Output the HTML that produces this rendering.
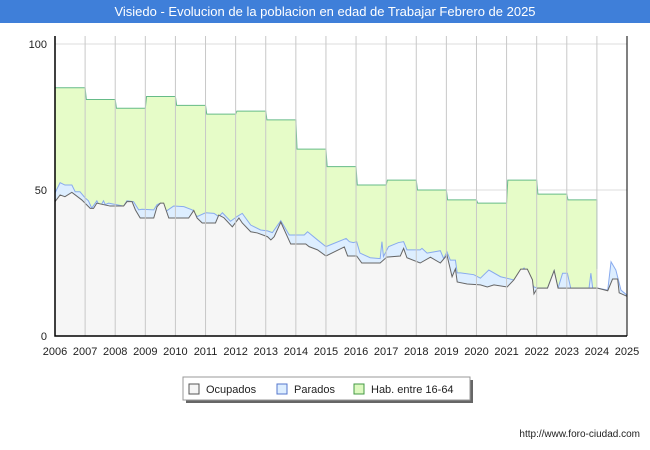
<!DOCTYPE html>
<html><head><meta charset="utf-8"><style>
body{margin:0;background:#fff;font-family:"Liberation Sans",sans-serif;}
#wrap{position:relative;width:650px;height:450px;overflow:hidden;}
</style></head><body>
<div id="wrap">
<svg id="svg" width="650" height="450" xmlns="http://www.w3.org/2000/svg">
<rect x="0" y="0" width="650" height="23" fill="#3f7fd9"/>
<text x="325" y="16" text-anchor="middle" font-size="13" fill="#fff" font-family="Liberation Sans, sans-serif">Visiedo - Evolucion de la poblacion en edad de Trabajar Febrero de 2025</text>
<g id="plot"></g>
<g>
<rect x="186" y="380" width="287" height="23" fill="#666"/>
<rect x="183" y="377" width="287" height="23" fill="#fff" stroke="#999"/>
<rect x="189" y="384" width="10" height="10" fill="#f5f5f5" stroke="#555"/>
<text x="206" y="393" font-size="11" fill="#222">Ocupados</text>
<rect x="277" y="384" width="10" height="10" fill="#ddeeff" stroke="#5577cc"/>
<text x="294" y="393" font-size="11" fill="#222">Parados</text>
<rect x="354" y="384" width="10" height="10" fill="#ddf9c0" stroke="#449944"/>
<text x="371" y="393" font-size="11" fill="#222">Hab. entre 16-64</text>
</g>
<text x="640" y="437" text-anchor="end" font-size="10" fill="#222">http://www.foro-ciudad.com</text>
</svg>
</div>
<script>
const xTicks=[2006,2007,2008,2009,2010,2011,2012,2013,2014,2015,2016,2017,2018,2019,2020,2021,2022,2023,2024,2025];
const yTicks=[0,50,100];
const habYears=[2006,2007,2008,2009,2010,2011,2012,2013,2014,2015,2016,2017,2018,2019,2020,2021,2022,2023];
const habVals=[85,81,78,82,79,76,77,74,64,58,51.7,53.4,50,46.6,45.5,53.4,48.6,46.6];
const habEndVal=23;
const ocuYears=[2006,2006.17,2006.33,2006.56,2006.89,2007.17,2007.28,2007.39,2007.83,2008.28,2008.39,2008.56,2008.67,2008.83,2009.28,2009.39,2009.5,2009.61,2009.78,2010.44,2010.61,2010.72,2010.89,2011.33,2011.44,2011.61,2011.89,2012.11,2012.22,2012.5,2012.72,2013.06,2013.17,2013.28,2013.5,2013.83,2014.33,2014.44,2014.72,2015,2015.61,2015.72,2016.02,2016.19,2016.8,2017.02,2017.47,2017.58,2017.69,2018.13,2018.47,2018.8,2019.02,2019.19,2019.3,2019.36,2019.69,2020.13,2020.36,2020.58,2021.02,2021.24,2021.47,2021.69,2021.86,2021.91,2022.02,2022.36,2022.58,2022.71,2024.02,2024.36,2024.52,2024.69,2024.74,2025];
const ocuVals=[46,48.3,47.7,49.2,46.6,43.7,43.7,45.5,44.5,44.5,46,46,43.2,40.4,40.4,44.3,45.5,45.5,40.4,40.4,43,40.4,38.7,38.7,41.4,40.5,37.4,40.4,38.7,35.7,35.3,34,32.9,34,39,31.5,31.5,30.6,29.5,27.4,30.5,27.4,27.4,25,25,27,27.4,30,26.8,25,27,25,27.7,20.3,23,18.5,17.8,17.5,16.8,17.5,16.8,19.2,22.9,22.9,19.2,14.4,16.4,16.4,22.4,16.4,16.4,15.5,19.5,19.5,14.8,13.6];
const parYears=[2006,2006.17,2006.33,2006.56,2006.67,2006.83,2007,2007.11,2007.22,2007.39,2007.5,2007.61,2007.67,2007.78,2008.28,2008.39,2008.61,2008.78,2008.89,2009.28,2009.39,2009.5,2009.67,2009.94,2010.28,2010.56,2010.72,2011,2011.28,2011.44,2011.56,2011.83,2012.06,2012.22,2012.5,2012.83,2013.06,2013.22,2013.5,2013.78,2014.28,2014.39,2014.72,2015,2015.67,2015.78,2015.91,2016.02,2016.13,2016.47,2016.8,2016.86,2016.91,2017.08,2017.41,2017.58,2017.69,2018.13,2018.19,2018.36,2018.8,2018.91,2019.02,2019.13,2019.3,2019.36,2019.47,2019.91,2020.13,2020.41,2020.8,2021.24,2021.58,2021.91,2022.02,2022.36,2022.58,2022.71,2022.86,2023.02,2023.13,2023.74,2023.8,2023.86,2024.02,2024.36,2024.47,2024.63,2024.8,2025];
const parVals=[49,52.5,51.7,51.7,49.4,49.4,47.3,46.3,43.8,46.3,44.2,46.3,45,45.5,44.5,46.3,46,43.2,43.4,43.2,45,45.5,42.6,44.5,44.3,43.2,40.9,42.2,42,40.9,42.2,39.3,41,42,38,36.3,36,35.4,39.5,34.6,34.6,35.7,32.9,30.6,33.4,32.3,32,32.3,28.4,26.8,26.5,32.3,27.2,30.6,32,32.3,29.5,29.5,30,28.4,29.2,26.5,28.8,26,26,21.6,21.6,21,19.8,22.6,20.3,19.2,23.3,16.8,16.4,16.4,22.4,16.4,21.5,21.5,16.4,16.4,21.5,16.4,16.4,15.7,25.4,22.6,15.7,14];

const X0=55,X1=627,Y0=336,Y100=44;
const sx=v=>X0+(v-2006)/(2025-2006)*(X1-X0);
const sy=v=>Y0-(v/100)*(Y0-Y100);
const NS="http://www.w3.org/2000/svg";
const plot=document.getElementById('plot');
function mk(tag,attrs){const e=document.createElementNS(NS,tag);for(const k in attrs)e.setAttribute(k,attrs[k]);plot.appendChild(e);return e;}

// horizontal grid
yTicks.forEach(t=>{
  if(t>0){const g=mk('line',{x1:X0,x2:X1,y1:sy(t),y2:sy(t),stroke:'#dddddd'});
  
  }
  const tx=mk('text',{x:X0-8,y:sy(t)+4,'text-anchor':'end','font-size':'11',fill:'#222'});
  tx.textContent=t;
  
  
});

// green area
let hp=[];
habYears.forEach((y,i)=>{hp.push([sx(y+(i?0.04:0)),sy(habVals[i])]);hp.push([sx(y+1),sy(habVals[i])]);});
hp.push([sx(habYears[habYears.length-1]+1),sy(habEndVal)]);
const hd='M'+hp.map(p=>p.join(',')).join('L');
const ha=mk('path',{d:hd+'L'+sx(2024)+','+Y0+'L'+X0+','+Y0+'Z',fill:'#e6fcc8'});


const hl=mk('path',{d:hd,fill:'none',stroke:'#66bb88','stroke-width':'1'});



function series(ys,vs,fill,stroke,name){
  const d='M'+ys.map((y,i)=>sx(y)+','+sy(vs[i])).join('L');
  const a=mk('path',{d:d+'L'+sx(ys[ys.length-1])+','+Y0+'L'+sx(ys[0])+','+Y0+'Z',fill:fill});
  
  
  const l=mk('path',{d:d,fill:'none',stroke:stroke,'stroke-width':'1'});
  
  
}
series(parYears,parVals,'#ddeeff','#88aaee','parados');
series(ocuYears,ocuVals,'#f6f6f6','#666666','ocupados');

// vertical grid + x labels
xTicks.forEach(t=>{
  const g=mk('line',{x1:sx(t),x2:sx(t),y1:36,y2:Y0,stroke:'#c8c8c8'});
  
  
  const tx=mk('text',{x:sx(t),y:355,'text-anchor':'middle','font-size':'11',fill:'#222'});
  tx.textContent=t;
  
  
});
const ax=mk('path',{d:`M${X0},36L${X0},${Y0}L${X1},${Y0}`,fill:'none',stroke:'#000','stroke-width':'1.5'});


const rb=mk('line',{x1:X1,x2:X1,y1:36,y2:Y0,stroke:'#000','stroke-width':'1'});


</script>
</body></html>
